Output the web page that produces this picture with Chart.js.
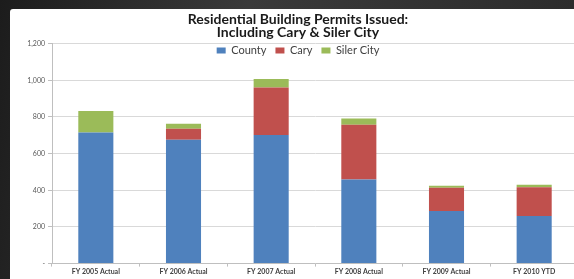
<!DOCTYPE html>
<html>
<head>
<meta charset="utf-8">
<script src="https://cdn.jsdelivr.net/npm/chart.js@4"></script>
<style>
    html, body {
        margin: 0;
        padding: 0;
        width: 574px;
        height: 279px;
        overflow: hidden;
        background: linear-gradient(100deg, #1c1c1c 0%, #3a3a3a 40%, #2a2a2a 100%);
    }
    #panel {
        position: absolute;
        left: 10px;
        top: 9px;
        width: 580px;
        height: 290px;
        background: #ffffff;
        border-top-left-radius: 3px;
    }
    #wrap {
        position: absolute;
        left: 0;
        top: 0;
        width: 578px;
        height: 279px;
    }
</style>
</head>
<body>
<div id="panel"></div>
<div id="wrap"><canvas id="permitsChart"></canvas></div>
<script>
    'use strict';

    var fiscalYears = ["FY 2005 Actual", "FY 2006 Actual", "FY 2007 Actual", "FY 2008 Actual", "FY 2009 Actual", "FY 2010 YTD"];
    var countyPermits = [715, 676, 702, 459, 287, 260];
    var caryPermits = [0, 60, 258, 298, 127, 156];
    var silerCityPermits = [117, 27, 47, 34, 10, 14];
    var yTicks = [0, 200, 400, 600, 800, 1000, 1200];

    var countyBlue = '#4F81BD';
    var caryRed = '#C0504D';
    var silerGreen = '#9BBB59';

    // legend sits over the plot area in the original, so it takes no layout space
    var legendOverlay = {
        id: 'legendOverlay',
        beforeLayout: function (chart) {
            var lg = chart.legend;
            if (lg && !lg._overlay) {
                var fit = lg.fit;
                lg.fit = function () {
                    fit.call(this);
                    this._realHeight = this.height;
                    this.height = 0;
                };
                lg._overlay = true;
            }
        },
        afterLayout: function (chart) {
            var lg = chart.legend;
            lg.top = 36;
            lg.height = lg._realHeight;
            lg.bottom = lg.top + lg._realHeight;
        }
    };

    var PERMITS = document.getElementById('permitsChart');

    var permitsChart = new Chart(PERMITS, {
        type: 'bar',
        data: {
            labels: fiscalYears,
            datasets: [
                {
                    label: "County",
                    backgroundColor: countyBlue,
                    borderWidth: 0,
                    data: countyPermits
                },
                {
                    label: "Cary",
                    backgroundColor: caryRed,
                    borderWidth: 0,
                    data: caryPermits
                },
                {
                    label: "Siler City",
                    backgroundColor: silerGreen,
                    borderWidth: 0,
                    data: silerCityPermits
                }
            ]
        },
        plugins: [legendOverlay],
        options: {
            responsive: true,
            maintainAspectRatio: false,
            animation: false,
            layout: {
                padding: {left: 18, right: 0, top: 0, bottom: 2}
            },
            datasets: {
                bar: {
                    barPercentage: 0.4,
                    categoryPercentage: 1.0
                }
            },
            plugins: {
                title: {
                    display: true,
                    text: ["Residential Building Permits Issued:", "Including Cary & Siler City"],
                    color: '#1a1a1a',
                    font: {family: 'Lato', size: 14, weight: 'bold', lineHeight: 0.95},
                    padding: {top: 13, bottom: 4}
                },
                legend: {
                    display: true,
                    position: 'top',
                    labels: {
                        color: '#404040',
                        font: {family: 'Lato', size: 11},
                        boxWidth: 9,
                        boxHeight: 6,
                        padding: 9
                    }
                },
                tooltip: {enabled: false}
            },
            scales: {
                x: {
                    stacked: true,
                    border: {display: true, color: '#bfbfbf', width: 1},
                    grid: {
                        offset: true,
                        drawOnChartArea: false,
                        drawTicks: true,
                        tickLength: 3,
                        color: '#bfbfbf'
                    },
                    ticks: {
                        color: '#404040',
                        font: {family: 'Lato', size: 7, weight: 'bold'},
                        padding: 1,
                        maxRotation: 0,
                        autoSkip: false
                    }
                },
                y: {
                    stacked: true,
                    min: 0,
                    max: 1200,
                    afterFit: function (scale) {
                        scale.width = 34;
                    },
                    afterBuildTicks: function (scale) {
                        scale.ticks = yTicks.map(function (v) { return {value: v}; });
                    },
                    border: {display: true, color: '#bfbfbf', width: 1},
                    grid: {
                        color: '#d9d9d9',
                        tickLength: 4,
                        tickColor: '#bfbfbf'
                    },
                    ticks: {
                        color: '#595959',
                        font: {family: 'Lato', size: 7},
                        padding: 3,
                        callback: function (value) {
                            return value === 0 ? '-' : value.toLocaleString('en-US');
                        }
                    }
                }
            }
        }
    });
</script>
</body>
</html>
